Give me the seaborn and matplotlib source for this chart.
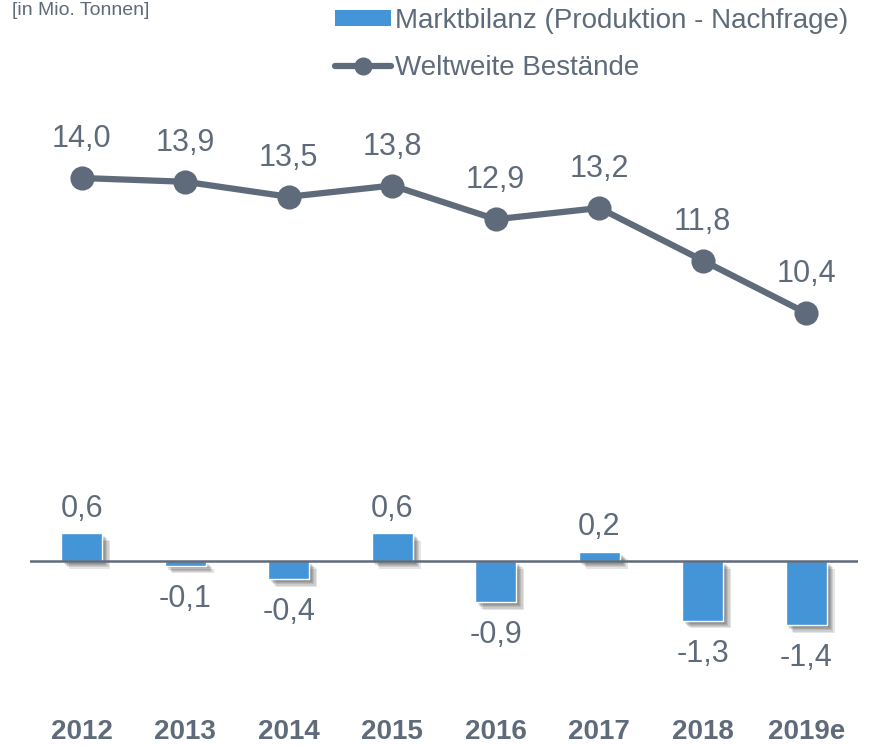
import numpy as np
import pandas as pd
import matplotlib
matplotlib.use("Agg")
import matplotlib.pyplot as plt
import matplotlib.patheffects as pe
from matplotlib.patches import Patch
from matplotlib.lines import Line2D
import seaborn as sns

years = ["2012", "2013", "2014", "2015", "2016", "2017", "2018", "2019e"]
bilanz = [0.6, -0.1, -0.4, 0.6, -0.9, 0.2, -1.3, -1.4]
bestaende = [14.0, 13.9, 13.5, 13.8, 12.9, 13.2, 11.8, 10.4]

df = pd.DataFrame({"Jahr": years, "Bilanz": bilanz, "Bestand": bestaende})

blue = "#4395d7"
grey = "#5f6b7a"

sns.set_theme(style="white")
plt.rcParams["font.family"] = ["Liberation Sans", "DejaVu Sans"]

fig = plt.figure(figsize=(8.69, 7.46), dpi=100)
rect = [30 / 869, (746 - 690) / 746, 828 / 869, 600 / 746]
ax = fig.add_axes(rect)

# bars: market balance, with a soft drop shadow
sns.barplot(data=df, x="Jahr", y="Bilanz", color=blue, saturation=1,
            width=0.4, ax=ax, zorder=3)
shadow = [pe.SimplePatchShadow(offset=(o, -o), shadow_rgbFace="#000000", alpha=0.1)
          for o in (5.5, 4.5, 3.6, 2.8, 2.0)]
for p in ax.patches:
    p.set_path_effects(shadow + [pe.Normal()])
ax.axhline(0, color=grey, lw=1.8, zorder=4)
ax.set_xlim(-0.5, 7.5)
ax.set_ylim(-2.804, 10.24)

for i, v in enumerate(bilanz):
    lbl = f"{v:.1f}".replace(".", ",")
    if v >= 0:
        ax.annotate(lbl, (i, v), xytext=(0, 7), textcoords="offset points",
                    ha="center", va="bottom", fontsize=22, color=grey)
    else:
        ax.annotate(lbl, (i, v), xytext=(0, -13), textcoords="offset points",
                    ha="center", va="top", fontsize=22, color=grey)

# line: global stocks
ax2 = ax.twinx()
sns.pointplot(data=df, x="Jahr", y="Bestand", color=grey, markers="o",
              markersize=14, linewidth=4.5, ax=ax2)
ax2.set_ylim(0.347, 16.347)
ax2.set_xlim(-0.5, 7.5)
for i, v in enumerate(bestaende):
    ax2.annotate(f"{v:.1f}".replace(".", ","), (i, v), xytext=(0, 28),
                 textcoords="offset points", ha="center", va="center",
                 fontsize=22, color=grey)

for a in (ax, ax2):
    sns.despine(ax=a, left=True, bottom=True, right=True, top=True)
    a.set_ylabel("")
    a.set_xlabel("")
    a.set_yticks([])
    a.patch.set_alpha(0)
ax.tick_params(axis="x", length=0, pad=21)
for t in ax.get_xticklabels():
    t.set_fontsize(20)
    t.set_fontweight("bold")
    t.set_color(grey)

# legend
handles = [Patch(facecolor=blue, edgecolor="none"),
           Line2D([0], [0], color=grey, lw=4.5, marker="o", markersize=12)]
fig.legend(handles, ["Marktbilanz (Produktion - Nachfrage)", "Weltweite Bestände"],
           loc="upper left", bbox_to_anchor=(335 / 869, 1 - 8 / 746), frameon=False,
           fontsize=20, handlelength=2.0, handleheight=0.5, handletextpad=0.15,
           labelspacing=0.75, borderaxespad=0, borderpad=0, labelcolor=grey)

fig.text(12 / 869, 1 - 2 / 746, "[in Mio. Tonnen]", ha="left", va="top",
         fontsize=14, color=grey)

fig.savefig("out.png", dpi=100)
